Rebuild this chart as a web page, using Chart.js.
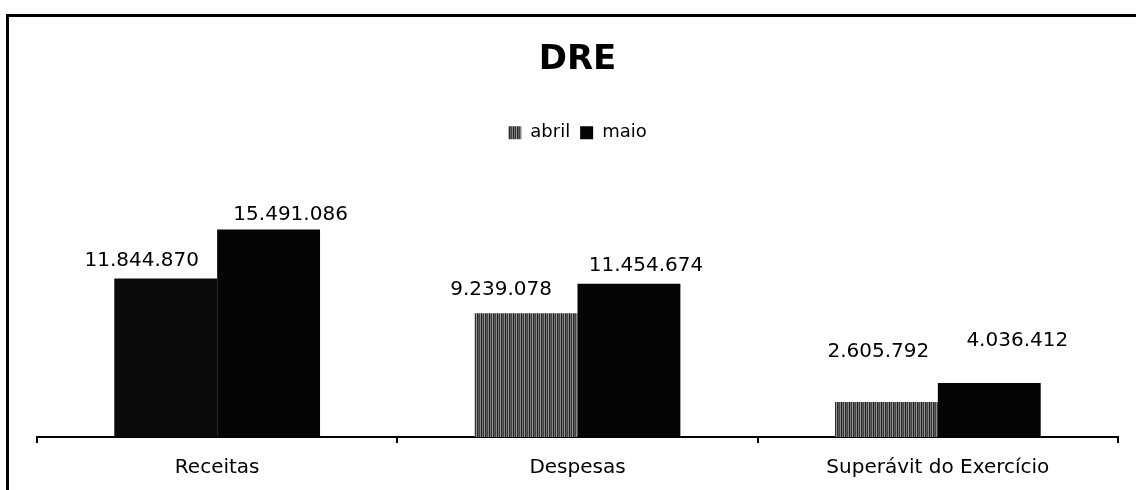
<!DOCTYPE html>
<html>
<head>
<meta charset="utf-8">
<script src="https://cdn.jsdelivr.net/npm/chart.js@4/dist/chart.umd.min.js"></script>
<style>
    html, body { margin: 0; padding: 0; background: #fff; }
    #frame {
        position: absolute;
        left: 6px;
        top: 14px;
        width: 1127px;
        height: 473px;
        border-left: 3px solid #000;
        border-top: 3px solid #000;
    }
    #dre-chart { display: block; }
</style>
</head>
<body>
<div id="frame">
    <canvas id="dre-chart" width="1127" height="473"></canvas>
</div>
<script>
const categories = ["Receitas", "Despesas", "Superávit do Exercício"]
const abril = [11844870, 9239078, 2605792]
const maio = [15491086, 11454674, 4036412]
const seriesNames = ["abril", "maio"]

function formatBR(v) {
    return String(v).replace(/\B(?=(\d{3})+(?!\d))/g, ".")
}

// striped fill, like the scanned "abril" bars
function makeStripes() {
    let c = document.createElement("canvas")
    let cols = ["#1c1c1c", "#777", "#333", "#999", "#2a2a2a", "#5a5a5a", "#444", "#888"]
    c.width = cols.length
    c.height = 1
    let ctx = c.getContext("2d")
    cols.forEach((col, i) => {
        ctx.fillStyle = col
        ctx.fillRect(i, 0, 1, 1)
    })
    return ctx.createPattern(c, "repeat")
}

(function () {
    'use strict'

    let stripes = makeStripes()

    // labels were hand placed in the original, so nudge each one
    let barLabels = {
        id: "barLabels",
        afterDatasetsDraw(chart, args, opts) {
            let ctx = chart.ctx
            ctx.save()
            ctx.font = opts.font
            ctx.fillStyle = "#000"
            ctx.textAlign = "center"
            ctx.textBaseline = "middle"
            chart.data.datasets.forEach((ds, di) => {
                let meta = chart.getDatasetMeta(di)
                meta.data.forEach((bar, i) => {
                    let dx = opts.dx[di][i]
                    let lift = opts.lift[di][i]
                    ctx.fillText(formatBR(ds.data[i]), bar.x + dx, bar.y - lift)
                })
            })
            ctx.restore()
        }
    }

    let canvas = document.getElementById("dre-chart")
    let config = {
        type: "bar",
        data: {
            labels: categories,
            datasets: [
                {
                    label: seriesNames[0],
                    data: abril,
                    backgroundColor: ctx => ctx.dataIndex === 0 ? "#0a0a0a" : stripes,
                    borderWidth: 0,
                    barPercentage: 1,
                    categoryPercentage: 0.571
                },
                {
                    label: seriesNames[1],
                    data: maio,
                    backgroundColor: "#050505",
                    borderWidth: 0,
                    barPercentage: 1,
                    categoryPercentage: 0.571
                }
            ]
        },
        options: {
            responsive: false,
            animation: false,
            layout: {
                padding: { left: 28, right: 18, top: 0, bottom: -3 }
            },
            plugins: {
                title: {
                    display: true,
                    text: "DRE",
                    color: "#000",
                    font: { family: "DejaVu Sans", size: 34, weight: "bold" },
                    padding: { top: 23, bottom: 33 }
                },
                legend: {
                    display: true,
                    labels: {
                        color: "#000",
                        boxWidth: 13,
                        boxHeight: 13,
                        font: { family: "DejaVu Sans", size: 18 },
                        generateLabels: chart => {
                            let items = Chart.defaults.plugins.legend.labels.generateLabels(chart)
                            items[0].fillStyle = stripes
                            return items
                        }
                    }
                },
                tooltip: { enabled: false },
                barLabels: {
                    font: "20px 'DejaVu Sans'",
                    dx: [[-24, -25, -8], [22, 17, 28]],
                    lift: [[18, 23, 50], [15, 18, 42]]
                }
            },
            scales: {
                y: {
                    display: false,
                    min: 0,
                    max: 21300000
                },
                x: {
                    border: { display: true, color: "#000", width: 2 },
                    grid: {
                        display: true,
                        drawOnChartArea: false,
                        drawTicks: true,
                        tickLength: 6,
                        color: "#000",
                        lineWidth: 2
                    },
                    ticks: {
                        color: "#000",
                        padding: 13,
                        font: { family: "DejaVu Sans", size: 20 }
                    }
                }
            }
        },
        plugins: [barLabels]
    }

    let chart = new Chart(canvas, config)
})()
</script>
</body>
</html>
